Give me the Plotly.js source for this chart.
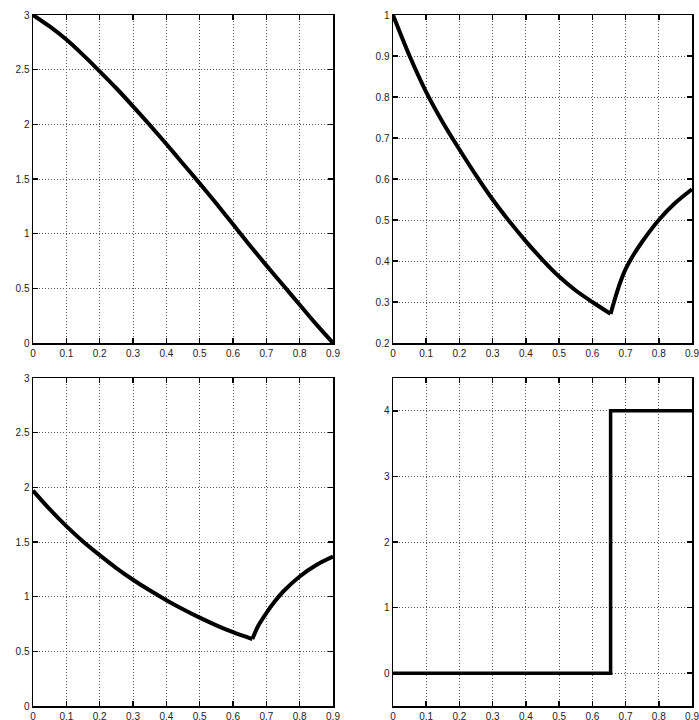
<!DOCTYPE html>
<html>
<head>
<meta charset="utf-8">
<script src="https://cdn.plot.ly/plotly-3.0.1.min.js"></script>
<style>html,body{margin:0;padding:0;background:#fff;}#chart{width:699px;height:720px;}</style>
</head>
<body>
<div id="chart"></div>
<script>
// Panel 1 (top-left)
const x1 = [0, 0.05, 0.1, 0.15, 0.2, 0.25, 0.3, 0.35, 0.4, 0.45, 0.5, 0.55, 0.6, 0.65, 0.7, 0.75, 0.8, 0.85, 0.9];
const y1 = [3.0, 2.895, 2.775, 2.635, 2.485, 2.33, 2.165, 1.995, 1.82, 1.64, 1.46, 1.275, 1.085, 0.895, 0.71, 0.53, 0.35, 0.17, 0.0];
// Panel 2 (top-right): falling branch and rising branch
const x2a = [0, 0.05, 0.1, 0.15, 0.2, 0.25, 0.3, 0.35, 0.4, 0.45, 0.5, 0.55, 0.6, 0.655];
const y2a = [1.0, 0.9, 0.812, 0.738, 0.672, 0.609, 0.55, 0.497, 0.448, 0.403, 0.362, 0.328, 0.3, 0.271];
const x2b = [0.655, 0.67, 0.685, 0.7, 0.72, 0.75, 0.8, 0.85, 0.9];
const y2b = [0.271, 0.313, 0.35, 0.38, 0.41, 0.447, 0.5, 0.542, 0.575];
// Panel 3 (bottom-left)
const x3a = [0, 0.05, 0.1, 0.15, 0.2, 0.25, 0.3, 0.35, 0.4, 0.45, 0.5, 0.55, 0.6, 0.658];
const y3a = [1.97, 1.80, 1.645, 1.505, 1.38, 1.262, 1.155, 1.058, 0.968, 0.885, 0.808, 0.738, 0.675, 0.612];
const x3b = [0.658, 0.675, 0.7, 0.725, 0.75, 0.8, 0.85, 0.9];
const y3b = [0.612, 0.73, 0.85, 0.955, 1.045, 1.185, 1.29, 1.366];
// Panel 4 (bottom-right) step
const x4 = [0, 0.655, 0.9];
const y4 = [0, 4, 4];

const xTicks = [0, 0.1, 0.2, 0.3, 0.4, 0.5, 0.6, 0.7, 0.8, 0.9];
const xTickText = ['0', '0.1', '0.2', '0.3', '0.4', '0.5', '0.6', '0.7', '0.8', '0.9'];

const sl = {color: '#000', width: 4, shape: 'spline', smoothing: 0.8};
const traces = [
  {x: x1, y: y1, xaxis: 'x', yaxis: 'y', mode: 'lines', line: sl},
  {x: x2a, y: y2a, xaxis: 'x2', yaxis: 'y2', mode: 'lines', line: sl},
  {x: x2b, y: y2b, xaxis: 'x2', yaxis: 'y2', mode: 'lines', line: sl},
  {x: x3a, y: y3a, xaxis: 'x3', yaxis: 'y3', mode: 'lines', line: sl},
  {x: x3b, y: y3b, xaxis: 'x3', yaxis: 'y3', mode: 'lines', line: sl},
  {x: x4, y: y4, xaxis: 'x4', yaxis: 'y4', mode: 'lines', line: {color: '#000', width: 3.5, shape: 'hv'}}
];

const font = {family: 'Liberation Sans, Arial, sans-serif', size: 10, color: '#222'};
function ax(extra) {
  return Object.assign({
    showline: true, linecolor: '#000', linewidth: 1.5, mirror: 'ticks',
    ticks: 'inside', ticklen: 5, tickwidth: 1.5, tickcolor: '#000',
    showgrid: true, gridcolor: '#555', gridwidth: 1, griddash: '1px,2px',
    zeroline: false, tickfont: font, fixedrange: true, ticklabeloverflow: 'allow'
  }, extra);
}
const xd1 = [33/699, 333/699], xd2 = [393/699, 692/699];
const ydTop = [1 - 343/720, 1 - 15/720], ydBot = [1 - 706/720, 1 - 378/720];
const xbase = {range: [0, 0.9], tickvals: xTicks, ticktext: xTickText};

const layout = {
  width: 699, height: 720, margin: {l: 0, r: 0, t: 0, b: 0},
  paper_bgcolor: '#fff', plot_bgcolor: '#fff', showlegend: false, font: font,
  xaxis: ax(Object.assign({domain: xd1, anchor: 'y'}, xbase)),
  yaxis: ax({domain: ydTop, anchor: 'x', range: [0, 3], dtick: 0.5, tick0: 0}),
  xaxis2: ax(Object.assign({domain: xd2, anchor: 'y2'}, xbase)),
  yaxis2: ax({domain: ydTop, anchor: 'x2', range: [0.2, 1], dtick: 0.1, tick0: 0.2}),
  xaxis3: ax(Object.assign({domain: xd1, anchor: 'y3'}, xbase)),
  yaxis3: ax({domain: ydBot, anchor: 'x3', range: [0, 3], dtick: 0.5, tick0: 0}),
  xaxis4: ax(Object.assign({domain: xd2, anchor: 'y4'}, xbase)),
  yaxis4: ax({domain: ydBot, anchor: 'x4', range: [-0.5, 4.5], tickvals: [0, 1, 2, 3, 4]})
};
Plotly.newPlot('chart', traces, layout, {displayModeBar: false, staticPlot: true});
</script>
</body>
</html>
